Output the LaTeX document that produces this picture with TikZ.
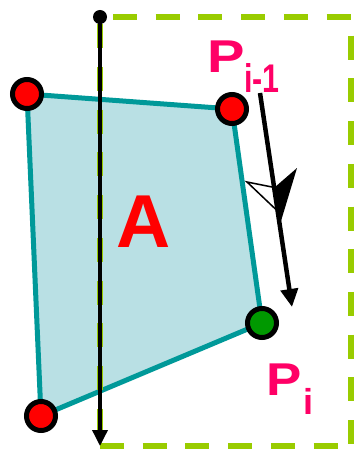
\documentclass[tikz,border=0pt]{standalone}
\usepackage{graphicx}
\usepackage{fontspec}
\setmainfont{Liberation Sans}
\usetikzlibrary{arrows.meta}
\definecolor{tealc}{HTML}{009999}
\definecolor{fillc}{HTML}{B9E0E4}
\definecolor{dashc}{HTML}{99CC00}
\definecolor{magc}{HTML}{FF0066}
\definecolor{dotgreen}{HTML}{009900}
\definecolor{redc}{HTML}{FF0000}
\begin{document}
\begin{tikzpicture}[x=1pt,y=-1pt,
  vtx/.style={circle,draw=black,line width=5pt,minimum size=29pt,inner sep=0pt},
  gside/.style={draw=dashc,line width=6pt,dash pattern=on 24pt off 18.7pt},
  biglbl/.style={text=magc,inner sep=0pt,anchor=base west},
  blackarrow/.style={draw=black,-{Triangle[width=17pt,length=18pt]}}]
\useasboundingbox (0,0) rectangle (356,449);
% polygon
\coordinate (v1) at (27,94);
\coordinate (v2) at (232,109);
\coordinate (v3) at (262,323);
\coordinate (v4) at (41,416);
\draw[tealc,fill=fillc,line width=5pt,line join=round] (v1) -- (v2) -- (v3) -- (v4) -- cycle;
% dashed rectangle
\coordinate (rtl) at (100,17);
\coordinate (rtr) at (351,17);
\coordinate (rbr) at (351,446);
\coordinate (rbl) at (100,446);
\draw[gside,dash phase=29.7pt] (rtl) -- (rtr);
\draw[gside,dash phase=24pt] (rtr) -- (rbr);
\draw[gside] (rbl) -- (rbr);
\draw[gside,dash phase=35.4pt] (rtl) -- (rbl);
% vertical line
\node[circle,fill=black,minimum size=14pt,inner sep=0pt] (top) at (100,17) {};
\coordinate (bot) at (100,446);
\draw[black,line width=3.5pt,-{Triangle[width=15pt,length=16pt]}] (top.center) -- (bot);
% right arrow
\coordinate (r1) at (260,93);
\coordinate (r2) at (292,307);
\draw[blackarrow,line width=4.5pt] (r1) -- (r2);
% mid arrowhead decoration
\coordinate (mn) at (274.5,187.5);
\coordinate (mr) at (297,168);
\coordinate (mt) at (281,221);
\coordinate (ml) at (247,182);
\coordinate (mt2) at (277.5,211);
\fill[black] (mn) -- (mr) -- (mt) -- cycle;
\draw[black,line width=1.5pt,line join=miter] (mn) -- (ml) -- (mt2);
% vertices
\node[vtx,fill=redc] (p1) at (v1) {};
\node[vtx,fill=redc] (p2) at (v2) {};
\node[vtx,fill=dotgreen] (p3) at (v3) {};
\node[vtx,fill=redc] (p4) at (v4) {};
% labels
\node[text=redc,inner sep=0pt,anchor=base,font=\bfseries\fontsize{75}{75}\selectfont] (A) at (143.5,247) {A};
\node[biglbl,font=\bfseries\fontsize{46}{46}\selectfont] (P1) at (207.5,73) {\scalebox{1.22}[1]{P}};
\node[biglbl,font=\bfseries\fontsize{40}{40}\selectfont] (s1) at (244,93) {\scalebox{0.76}[1]{i-1}};
\node[biglbl,font=\bfseries\fontsize{46}{46}\selectfont] (P2) at (266,395) {\scalebox{1.15}[1]{P}};
\node[biglbl,font=\bfseries\fontsize{36}{36}\selectfont] (s2) at (303,414) {i};
\end{tikzpicture}
\end{document}
